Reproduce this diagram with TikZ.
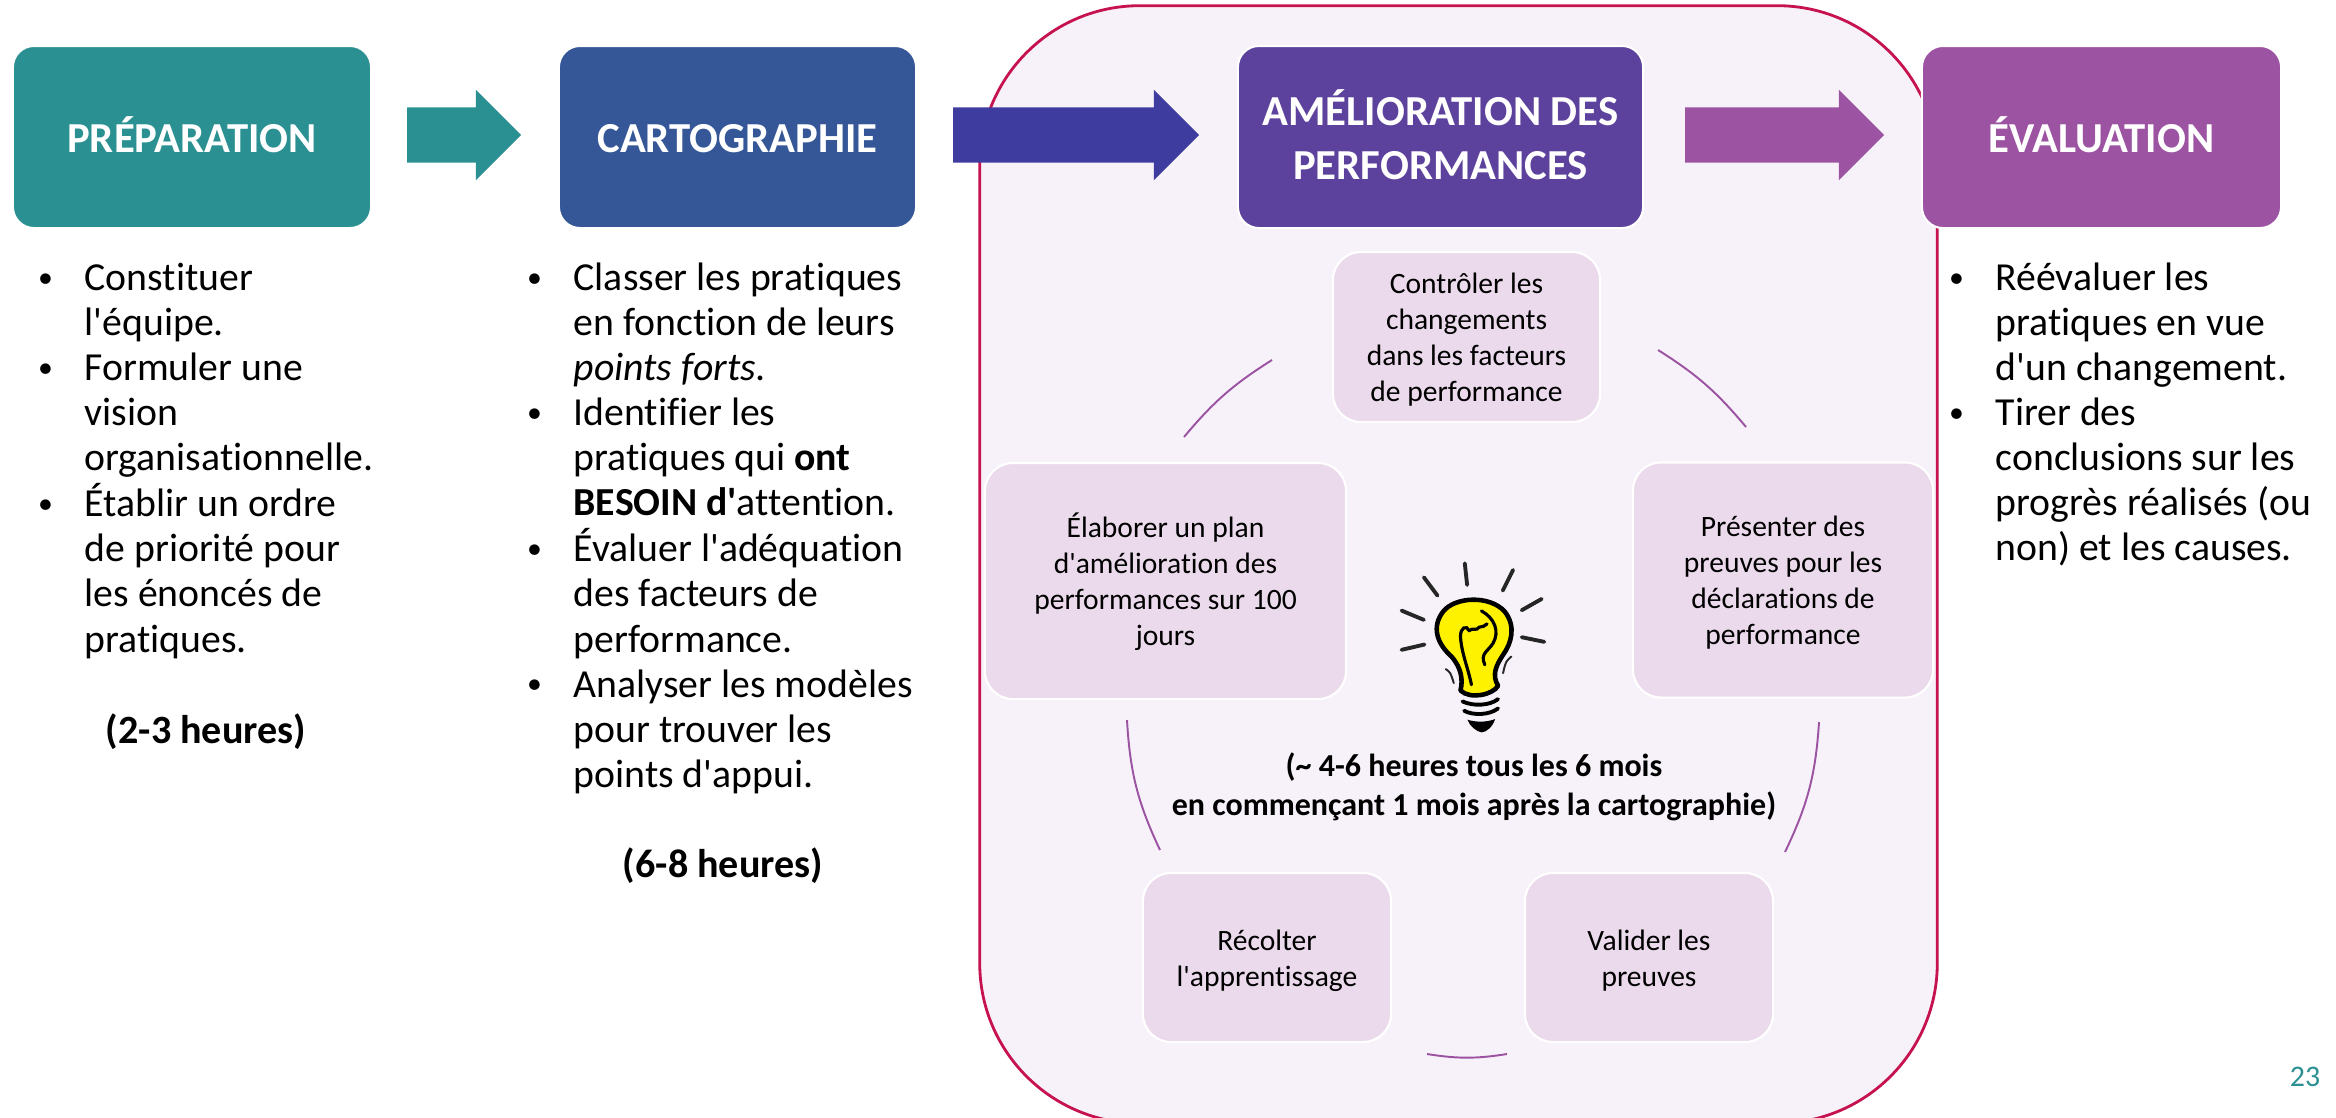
\documentclass[tikz,border=0pt]{standalone}
\usepackage{fontspec}
\usepackage{graphicx}
\setmainfont{Carlito}[Ligatures={TeXOff,NoCommon}]
\usetikzlibrary{shapes.arrows}
\definecolor{tealc}{HTML}{2A9091}
\definecolor{bluec}{HTML}{355798}
\definecolor{indigol}{HTML}{3F3C9F}
\definecolor{violetc}{HTML}{5C429C}
\definecolor{plumc}{HTML}{9B53A2}
\definecolor{framec}{HTML}{C6134F}
\definecolor{framebg}{HTML}{F7F2FA}
\definecolor{stepc}{HTML}{EBDAEC}
\newcommand{\puce}{\rlap{\hspace{.06em}\raisebox{.08em}{\scalebox{.75}{\textbullet}}}\hphantom{\textbullet}}
\tikzset{
  phase/.style={rectangle, rounded corners=6pt, draw=white, line width=0.6pt, minimum height=1.82cm, text=white,
    align=center, font=\fontsize{12.15}{15.2}\selectfont\bfseries, inner sep=0pt, text height=8.75pt, text depth=0pt},
  blockarrow/.style={single arrow, single arrow head extend=0.175cm, minimum height=#1, minimum width=0.89cm,
    inner xsep=0pt, inner ysep=0.27cm, outer sep=0pt, anchor=tail},
  stepbox/.style={rectangle, rounded corners=8pt, fill=stepc, draw=white, line width=0.6pt, align=center, inner sep=0pt,
    font=\fontsize{8.4}{10.2}\selectfont, text height=#1, text depth=0pt},
  liste/.style={anchor=north west, inner sep=0pt, font=\fontsize{11.3}{12.8}\selectfont},
  duree/.style={font=\fontsize{11.4}{13}\selectfont\bfseries, inner sep=0pt},
  cycle/.style={plumc, line width=0.55pt},
  ray/.style={line width=0.55pt, line cap=round, black!85}
}
\begin{document}
\begin{tikzpicture}[x=0.01cm,y=-0.01cm]
  \useasboundingbox (0,0) rectangle (2336,1117);
  \clip (0,0) rectangle (2336,1117);

  \node[rectangle, rounded corners=1.6cm, draw=framec, fill=framebg, line width=0.8pt, minimum width=9.57cm, minimum height=11.17cm, inner sep=0pt] (cadre) at (1458.5,564.5) {};

  % phases
  \node[phase, fill=tealc, minimum width=3.58cm] (prep) at (192,137) {PRÉPARATION};
  \node[phase, fill=bluec, minimum width=3.57cm] (carto) at (737.5,137) {CARTOGRAPHIE};
  \node[phase, fill=violetc, minimum width=4.05cm, text height=23.95pt] (amelio) at (1440.5,137) {AMÉLIORATION DES\\PERFORMANCES};
  \node[phase, fill=plumc, minimum width=3.59cm] (eval) at (2101.5,137) {ÉVALUATION};

  \node[blockarrow=1.14cm, fill=tealc] (fl1) at (407,135) {};
  \node[blockarrow=2.46cm, fill=indigol] (fl2) at (953,135) {};
  \node[blockarrow=1.99cm, fill=plumc] (fl3) at (1685,135) {};

  % listes
  \node[liste] (l1) at (35,258) {\begin{tabular}{@{}l@{\hskip 8.3pt}l@{}}
    \puce & Constituer\\
     & l'équipe.\\
    \puce & Formuler une\\
     & vision\\
     & organisationnelle.\\
    \puce & Établir un ordre\\
     & de priorité pour\\
     & les énoncés de\\
     & pratiques.
  \end{tabular}};
  \node[liste] (l2) at (524,258) {\begin{tabular}{@{}l@{\hskip 8.3pt}l@{}}
    \puce & Classer les pratiques\\
     & en fonction de leurs\\
     & \textit{points forts}.\\
    \puce & Identifier les\\
     & pratiques qui \textbf{ont}\\
     & \textbf{BESOIN d'}attention.\\
    \puce & Évaluer l'adéquation\\
     & des facteurs de\\
     & performance.\\
    \puce & Analyser les modèles\\
     & pour trouver les\\
     & points d'appui.
  \end{tabular}};
  \node[liste] (l3) at (1946,258) {\begin{tabular}{@{}l@{\hskip 8.3pt}l@{}}
    \puce & Réévaluer les\\
     & pratiques en vue\\
     & d'un changement.\\
    \puce & Tirer des\\
     & conclusions sur les\\
     & progrès réalisés (ou\\
     & non) et les causes.
  \end{tabular}};
  \node[duree] (d1) at (206,732) {(2-3 heures)};
  \node[duree] (d2) at (723,866) {(6-8 heures)};

  % cycle
  \node[stepbox=36.6pt, minimum width=2.67cm, minimum height=1.70cm] (s1) at (1466.5,337) {Contrôler les\\changements\\dans les facteurs\\de performance};
  \node[stepbox=36.6pt, minimum width=3.00cm, minimum height=2.35cm] (s2) at (1783,580) {Présenter des\\preuves pour les\\déclarations de\\performance};
  \node[stepbox=16.2pt, minimum width=2.48cm, minimum height=1.69cm] (s3) at (1649,957.5) {Valider les\\preuves};
  \node[stepbox=16.2pt, minimum width=2.48cm, minimum height=1.69cm] (s4) at (1267,957.5) {Récolter\\l'apprentissage};
  \node[stepbox=36.6pt, minimum width=3.61cm, minimum height=2.36cm] (s5) at (1165.5,581) {Élaborer un plan\\d'amélioration des\\performances sur 100\\jours};
  \node[inner sep=0pt, align=center, font=\fontsize{9.1}{11}\selectfont\bfseries] (note) at (1474,787) {(\char`\~{} 4-6 heures tous les 6 mois\\en commençant 1 mois après la cartographie)};

  \coordinate (a1) at (1658,350); \coordinate (a2) at (1746,427);
  \coordinate (b1) at (1819,722); \coordinate (b2) at (1785,852);
  \coordinate (c1) at (1507,1054); \coordinate (c2) at (1427,1054);
  \coordinate (d1e) at (1160,850); \coordinate (d2e) at (1127,720);
  \coordinate (e1) at (1184,437); \coordinate (e2) at (1272,360);
  \draw[cycle] (a1) to[bend left=9] (a2);
  \draw[cycle] (b1) to[bend left=11] (b2);
  \draw[cycle] (c1) to[bend left=9] (c2);
  \draw[cycle] (d1e) to[bend left=11] (d2e);
  \draw[cycle] (e1) to[bend left=9] (e2);

  % ampoule
  \begin{scope}[shift={(1330,540)},x=0.00333cm,y=-0.00333cm]
    \foreach \xa/\ya/\xb/\yb in {405/70/412/135, 282/112/323/167, 215/212/282/240, 215/330/284/314, 550/90/519/152, 636/177/576/211, 576/292/644/306}
      \draw[ray, line width=1.1pt] (\xa,\ya) -- (\xb,\yb);
    \draw[ray] (348,388) .. controls (362,398) .. (372,430);
    \draw[ray] (545,350) .. controls (528,365) .. (520,400);
    \draw[fill=yellow, line width=1.3pt, line join=round] (392,452) .. controls (400,420) and (395,385) .. (365,350)
      .. controls (320,310) and (305,260) .. (340,215) .. controls (375,170) and (480,165) .. (525,215)
      .. controls (560,260) and (545,310) .. (520,345) .. controls (500,375) and (485,405) .. (505,438)
      .. controls (490,465) and (420,480) .. (392,452) -- cycle;
    \draw[line width=0.9pt, line cap=round] (425,435) .. controls (415,385) and (395,340) .. (392,290)
      .. controls (392,262) and (410,255) .. (418,272) .. controls (430,262) and (440,275) .. (448,262) .. controls (458,262) and (465,258) .. (472,252);
    \draw[line width=0.9pt, line cap=round] (455,213) .. controls (495,235) and (510,275) .. (490,310) .. controls (475,335) and (450,340) .. (465,375);
    \draw[line width=1.1pt, line cap=round] (398,485) .. controls (430,500) and (480,498) .. (505,478);
    \draw[line width=1.1pt, line cap=round] (403,513) .. controls (430,528) and (480,526) .. (505,506);
    \fill (413,540) .. controls (440,548) and (470,548) .. (496,538) .. controls (490,560) and (470,578) .. (455,578) .. controls (440,575) and (420,560) .. (413,540) -- cycle;
  \end{scope}

  \node[inner sep=0pt, text=tealc, font=\fontsize{8.5}{10}\selectfont] (page) at (2305,1077) {23};
\end{tikzpicture}
\end{document}
